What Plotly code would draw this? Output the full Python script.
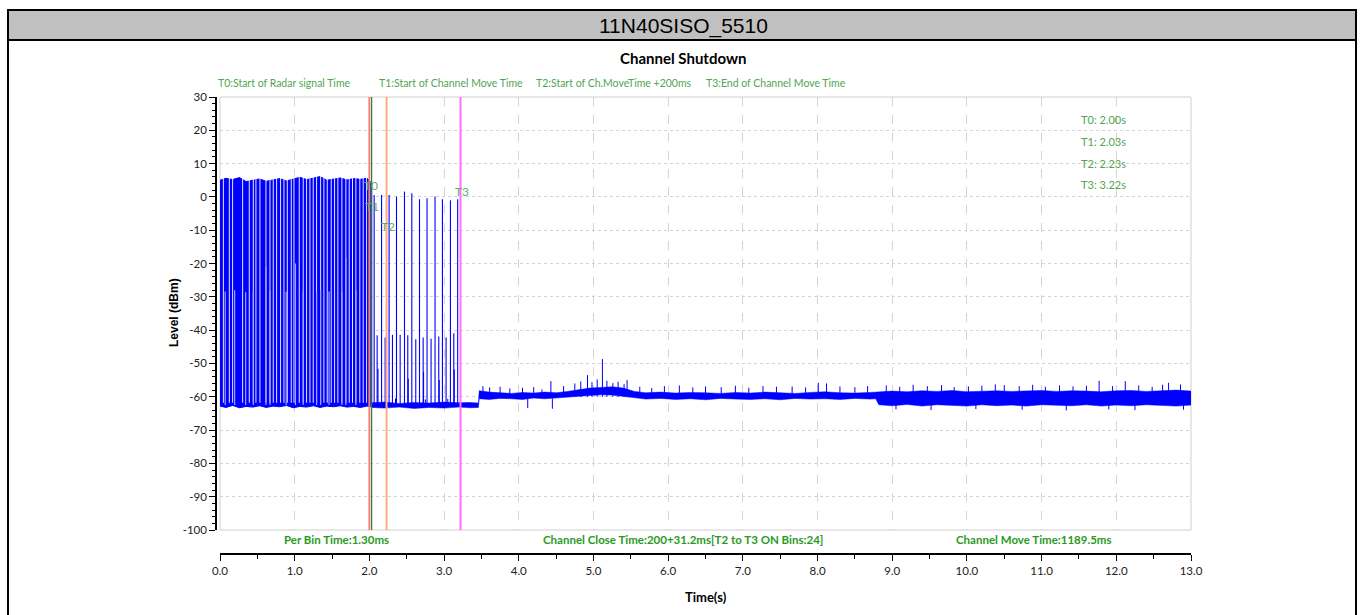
import plotly.graph_objects as go

# ------------------------------------------------------------------ data
x_tick_vals = [0, 1, 2, 3, 4, 5, 6, 7, 8, 9, 10, 11, 12, 13]
x_tick_text = ["0.0", "1.0", "2.0", "3.0", "4.0", "5.0", "6.0", "7.0",
               "8.0", "9.0", "10.0", "11.0", "12.0", "13.0"]
y_tick_vals = [30, 20, 10, 0, -10, -20, -30, -40, -50, -60, -70, -80, -90, -100]
y_tick_text = ["30", "20", "10", "0", "-10", "-20", "-30", "-40", "-50", "-60",
               "-70", "-80", "-90", "-100"]

marker_names = ["T0", "T1", "T2", "T3"]
marker_times = [2.00, 2.03, 2.23, 3.22]
marker_label_x = [2.02, 2.04, 2.245, 3.245]
marker_label_y = [3.5, -2.8, -9.0, 1.5]
legend_texts = ["T0:Start of Radar signal Time", "T1:Start of Channel Move Time",
                "T2:Start of Ch.MoveTime +200ms", "T3:End of Channel Move Time"]
value_texts = ["T0: 2.00s", "T1: 2.03s", "T2: 2.23s", "T3: 3.22s"]
footer_texts = ["Per Bin Time:1.30ms",
                "Channel Close Time:200+31.2ms[T2 to T3 ON Bins:24]",
                "Channel Move Time:1189.5ms"]

# radar burst block before T1 (outline of the dense pulse train)
block_t = [0.0, 0.08, 0.17, 0.26, 0.35, 0.44, 0.53, 0.62, 0.71, 0.80, 0.89, 0.98,
           1.07, 1.16, 1.25, 1.34, 1.43, 1.52, 1.61, 1.70, 1.79, 1.88, 1.97, 2.03]
block_top = [5.0, 5.6, 5.2, 5.8, 4.6, 4.9, 5.4, 4.7, 5.1, 5.5, 4.8, 5.3,
             5.9, 5.2, 5.6, 6.1, 5.0, 5.4, 5.7, 5.1, 5.5, 5.3, 5.6, 4.2]
block_bottom = [-62.8, -63.2, -62.6, -63.3, -62.9, -63.1, -62.7, -63.2, -62.8, -63.0,
                -62.6, -63.3, -62.9, -63.1, -62.7, -63.2, -62.8, -63.0, -62.7, -63.1,
                -62.9, -63.2, -62.8, -63.0]
# white gaps between pulses inside the block
block_gap_t = [0.045, 0.125, 0.169, 0.303, 0.392, 0.446, 0.481, 0.535, 0.615, 0.669,
               0.713, 0.758, 0.811, 0.856, 0.901, 0.954, 0.990, 1.061, 1.114, 1.159,
               1.204, 1.248, 1.293, 1.347, 1.391, 1.436, 1.489, 1.534, 1.578, 1.632,
               1.685, 1.730, 1.774, 1.819, 1.872, 1.917, 1.962]
# lighter, lower pulses visible inside some gaps
block_light_t = [0.07, 0.196, 0.343, 0.446, 0.615, 0.669, 0.886, 1.010, 1.114,
                 1.293, 1.347, 1.460, 1.632, 1.685, 1.819]
block_light_lv = [-28.4, -28.0, -28.6, -28.3, -21.0, -28.2, -28.5, -20.0, -28.3,
                  -28.6, -28.1, -28.4, -28.5, -18.3, -28.2]

# residual pulses between T1 and T3
pulse_base = -62.5
tall_t = [2.064, 2.163, 2.264, 2.363, 2.470, 2.568, 2.671, 2.772, 2.879, 2.978, 3.085, 3.182]
tall_lv = [0.6, 0.6, 0.6, 0.1, 1.6, 1.1, -0.7, -0.4, 0.1, -0.7, -1.0, -0.7]
mid_t = [2.104, 2.211, 2.309, 2.412, 2.514, 2.621, 2.720, 2.826, 2.929, 3.027, 3.130]
mid_lv = [-41.5, -42.2, -41.4, -41.4, -41.5, -42.7, -42.2, -42.6, -41.9, -42.2, -40.9]
small_t = [2.115, 2.725, 3.136, 2.52, 2.935]
small_lv = [-51.6, -52.5, -51.8, -54.5, -55.0]

# noise floor envelope
band_t = [2.03, 2.2, 2.4, 2.6, 2.8, 3.0, 3.2, 3.35, 3.46, 3.47, 3.6, 3.75, 3.9, 4.05,
          4.2, 4.35, 4.5, 4.65, 4.8, 4.95, 5.1, 5.25, 5.4, 5.55, 5.7, 5.9, 6.1, 6.3,
          6.5, 6.7, 6.9, 7.1, 7.3, 7.5, 7.7, 7.9, 8.1, 8.3, 8.5, 8.7, 8.78, 8.82,
          9.0, 9.2, 9.4, 9.6, 9.8, 10.0, 10.2, 10.4, 10.6, 10.8, 11.0, 11.2, 11.4,
          11.6, 11.8, 12.0, 12.2, 12.4, 12.6, 12.8, 13.0]
band_low = [-63.2, -63.4, -63.1, -63.5, -63.2, -63.4, -63.1, -63.3, -63.2, -60.6,
            -60.8, -60.5, -60.6, -60.8, -60.4, -60.6, -60.3, -60.1, -59.8, -59.6,
            -59.4, -59.5, -59.7, -60.3, -60.7, -60.5, -60.8, -60.6, -60.9, -60.5,
            -60.7, -60.8, -60.6, -60.9, -60.5, -60.7, -60.6, -60.8, -60.5, -60.7,
            -60.6, -62.4, -62.7, -62.3, -62.8, -62.4, -62.6, -62.8, -62.4, -62.7,
            -62.5, -62.8, -62.4, -62.6, -62.7, -62.4, -62.8, -62.5, -62.7, -62.4,
            -62.6, -62.8, -62.5]
band_high = [-61.8, -61.6, -62.0, -61.7, -61.9, -61.6, -61.8, -61.7, -61.9, -58.2,
             -58.6, -58.8, -59.0, -58.7, -58.9, -58.6, -58.8, -58.4, -57.8, -57.4,
             -57.2, -57.0, -57.4, -58.4, -58.8, -58.6, -58.9, -58.7, -58.8, -59.0,
             -58.7, -58.9, -58.6, -58.8, -59.0, -58.7, -58.5, -58.8, -58.9, -58.7,
             -58.6, -58.4, -58.3, -58.5, -58.2, -58.4, -58.1, -58.5, -58.3, -58.2,
             -58.4, -58.3, -58.1, -58.4, -58.2, -58.3, -58.5, -58.2, -58.1, -58.4,
             -58.2, -58.0, -58.3]
# spikes above the noise floor
spike_t = [2.35, 2.75, 3.05, 3.52, 3.61, 3.75, 3.88, 4.05, 4.20, 4.31, 4.43, 4.60,
           4.75, 4.83, 4.92, 4.98, 5.05, 5.12, 5.18, 5.26, 5.33, 5.41, 5.45, 5.62,
           5.78, 5.95, 6.15, 6.33, 6.50, 6.71, 6.90, 7.08, 7.27, 7.45, 7.66, 7.84,
           8.01, 8.12, 8.30, 8.50, 8.67, 8.92, 9.10, 9.28, 9.47, 9.66, 9.83, 10.02,
           10.20, 10.38, 10.50, 10.70, 10.88, 11.05, 11.24, 11.42, 11.60, 11.77,
           11.95, 12.12, 12.30, 12.48, 12.62, 12.70, 12.86]
spike_lv = [-60.5, -60.8, -60.6, -56.8, -57.2, -57.0, -57.5, -57.3, -57.1, -57.8, -55.3,
            -56.8, -56.0, -55.4, -53.5, -55.6, -54.8, -48.7, -55.2, -55.9, -55.5,
            -56.2, -55.0, -57.0, -57.4, -56.8, -56.6, -57.2, -56.9, -57.1, -56.7,
            -57.3, -56.8, -57.0, -56.9, -57.2, -55.8, -56.0, -56.9, -57.1, -56.8,
            -56.6, -57.0, -56.4, -56.8, -56.5, -57.1, -56.9, -56.7, -56.3, -56.5,
            -56.8, -56.4, -57.0, -56.6, -56.9, -56.7, -55.2, -56.8, -55.3, -56.6,
            -57.0, -56.4, -55.8, -56.3]
# dips below the noise floor
dip_t = [4.12, 4.45, 9.05, 9.52, 10.12, 10.74, 11.33, 11.9, 12.25, 12.9]
dip_lv = [-63.4, -63.6, -63.8, -64.0, -63.7, -63.9, -64.1, -63.8, -64.0, -63.9]

# ------------------------------------------------------------------ layout helpers
W, H = 1364, 615
ML, MR, MT, MB = 216, 173, 97, 61
PW, PH = W - ML - MR, H - MT - MB


def fx(p):
    return (p - ML) / PW


def fy(p):
    return (H - MB - p) / PH


FONT = "Lato, Roboto, Liberation Sans, sans-serif"
ARIAL = "Liberation Sans, Arial, sans-serif"
BLUE = "#0000ff"
LEGEND_GREEN = "#4fa64f"
FOOT_GREEN = "#2a9a1e"
marker_colors = ["#f3827c", "#2e7d32", "#ffab82", "#ff70ff"]
marker_widths = [2, 1.2, 2, 2]


def segments(ts, tops, base):
    xs, ys = [], []
    for t, v in zip(ts, tops):
        xs += [t, t, None]
        ys += [base, v, None]
    return xs, ys


fig = go.Figure()

# dense radar block
fig.add_trace(go.Scatter(
    x=block_t + block_t[::-1], y=block_top + block_bottom[::-1],
    fill="toself", fillcolor=BLUE, mode="lines", line=dict(color=BLUE, width=1),
    hoverinfo="skip", showlegend=False))
gx, gy = [], []
for t in block_gap_t:
    gx += [t, t, None]
    gy += [7, -61.8, None]
fig.add_trace(go.Scatter(x=gx, y=gy, mode="lines", line=dict(color="white", width=0.9),
                         hoverinfo="skip", showlegend=False))
lx, ly = segments(block_light_t, block_light_lv, -62.5)
fig.add_trace(go.Scatter(x=lx, y=ly, mode="lines", line=dict(color="#a0a0ff", width=1.2),
                         hoverinfo="skip", showlegend=False))

# noise floor band
fig.add_trace(go.Scatter(
    x=band_t + band_t[::-1], y=band_high + band_low[::-1],
    fill="toself", fillcolor=BLUE, mode="lines", line=dict(color=BLUE, width=0.5),
    hoverinfo="skip", showlegend=False))

# spikes / dips
sx, sy = segments(spike_t, spike_lv, -60.0)
for i, t in enumerate(spike_t):
    if t < 3.46:
        sy[3 * i] = pulse_base
fig.add_trace(go.Scatter(x=sx, y=sy, mode="lines", line=dict(color=BLUE, width=1),
                         hoverinfo="skip", showlegend=False))
dx, dy = segments(dip_t, dip_lv, -60.5)
fig.add_trace(go.Scatter(x=dx, y=dy, mode="lines", line=dict(color=BLUE, width=1),
                         hoverinfo="skip", showlegend=False))

# residual pulses
for ts, lvs in ((tall_t, tall_lv), (mid_t, mid_lv), (small_t, small_lv)):
    px_, py_ = segments(ts, lvs, pulse_base)
    fig.add_trace(go.Scatter(x=px_, y=py_, mode="lines", line=dict(color=BLUE, width=1.1),
                             hoverinfo="skip", showlegend=False))

shapes = []
# plot frame
shapes.append(dict(type="rect", xref="x domain", yref="y domain", x0=0, x1=1, y0=0, y1=1,
                   line=dict(color="#cfcfcf", width=1), layer="below"))
# marker lines
for t, c, w in zip(marker_times, marker_colors, marker_widths):
    shapes.append(dict(type="line", xref="x", yref="y domain", x0=t, x1=t, y0=0, y1=1,
                       line=dict(color=c, width=w)))
# header band and outer border
shapes.append(dict(type="rect", xref="paper", yref="paper", x0=fx(8), x1=fx(1356),
                   y0=fy(40), y1=fy(10), fillcolor="#c0c0c0", line=dict(color="black", width=2)))
shapes.append(dict(type="line", xref="paper", yref="paper", x0=fx(8), x1=fx(8),
                   y0=fy(10), y1=fy(625), line=dict(color="black", width=2)))
shapes.append(dict(type="line", xref="paper", yref="paper", x0=fx(1356), x1=fx(1356),
                   y0=fy(10), y1=fy(625), line=dict(color="black", width=2)))

ann = []
ann.append(dict(text="11N40SISO_5510", xref="paper", yref="paper", x=fx(683), y=fy(26),
                showarrow=False, font=dict(family=ARIAL, size=21, color="black"),
                xanchor="center", yanchor="middle"))
ann.append(dict(text="<b>Channel Shutdown</b>", xref="paper", yref="paper", x=fx(683), y=fy(58),
                showarrow=False, font=dict(family=FONT, size=15, color="black"),
                xanchor="center", yanchor="middle"))
for txt, p in zip(legend_texts, [284, 451, 614, 776]):
    ann.append(dict(text=txt, xref="paper", yref="paper", x=fx(p), y=fy(83),
                    showarrow=False, font=dict(family=FONT, size=10.5, color=LEGEND_GREEN),
                    xanchor="center", yanchor="middle"))
for txt, p in zip(value_texts, [119, 141, 163, 184]):
    ann.append(dict(text=txt, xref="paper", yref="paper", x=fx(1128), y=fy(p),
                    showarrow=False, font=dict(family=FONT, size=11, color=LEGEND_GREEN),
                    xanchor="right", yanchor="middle"))
for txt, p in zip(footer_texts, [336, 683, 1034]):
    ann.append(dict(text="<b>" + txt + "</b>", xref="paper", yref="paper", x=fx(p), y=fy(539),
                    showarrow=False, font=dict(family=FONT, size=11.5, color=FOOT_GREEN),
                    xanchor="center", yanchor="middle"))
for name, lx_, ly_ in zip(marker_names, marker_label_x, marker_label_y):
    ann.append(dict(text=name, xref="x", yref="y", x=lx_, y=ly_, showarrow=False,
                    font=dict(family=FONT, size=12, color="#5fae5f"),
                    xanchor="center", yanchor="middle"))
ann.append(dict(text="<b>Level (dBm)</b>", xref="paper", yref="paper", x=fx(174), y=fy(313),
                showarrow=False, textangle=-90, font=dict(family=ARIAL, size=12, color="black"),
                xanchor="center", yanchor="middle"))
ann.append(dict(text="<b>Time(s)</b>", xref="paper", yref="paper", x=fx(706), y=fy(597),
                showarrow=False, font=dict(family=FONT, size=13, color="black"),
                xanchor="center", yanchor="middle"))

fig.update_layout(
    width=W, height=H,
    margin=dict(l=ML, r=MR, t=MT, b=MB, pad=0),
    paper_bgcolor="white", plot_bgcolor="white",
    showlegend=False,
    shapes=shapes, annotations=ann,
    xaxis=dict(range=[0, 13], domain=[fx(220), 1], anchor="free", position=0,
               tickvals=x_tick_vals, ticktext=x_tick_text,
               ticks="outside", ticklen=6, tickwidth=1, tickcolor="black",
               showline=True, linecolor="black", linewidth=1.5,
               showgrid=True, gridcolor="#d4d4d4", griddash="dash", gridwidth=1,
               zeroline=False,
               tickfont=dict(family=FONT, size=11.5, color="#222"),
               minor=dict(dtick=0.5, tick0=0, ticks="outside", ticklen=4,
                          tickcolor="black", showgrid=False)),
    yaxis=dict(range=[-100, 30], domain=[fy(530), 1], anchor="free", position=0,
               tickvals=y_tick_vals, ticktext=y_tick_text,
               ticks="outside", ticklen=6, tickcolor="black",
               showline=True, linecolor="black", linewidth=1.5,
               showgrid=True, gridcolor="#d4d4d4", griddash="dot", gridwidth=1,
               zeroline=False,
               tickfont=dict(family=FONT, size=11.5, color="#222"),
               minor=dict(dtick=2, tick0=0, ticks="outside", ticklen=3,
                          tickcolor="black", showgrid=False)),
)

fig.write_html("out.html", config={"displayModeBar": False},
               post_script="document.body.style.margin='0px';")
